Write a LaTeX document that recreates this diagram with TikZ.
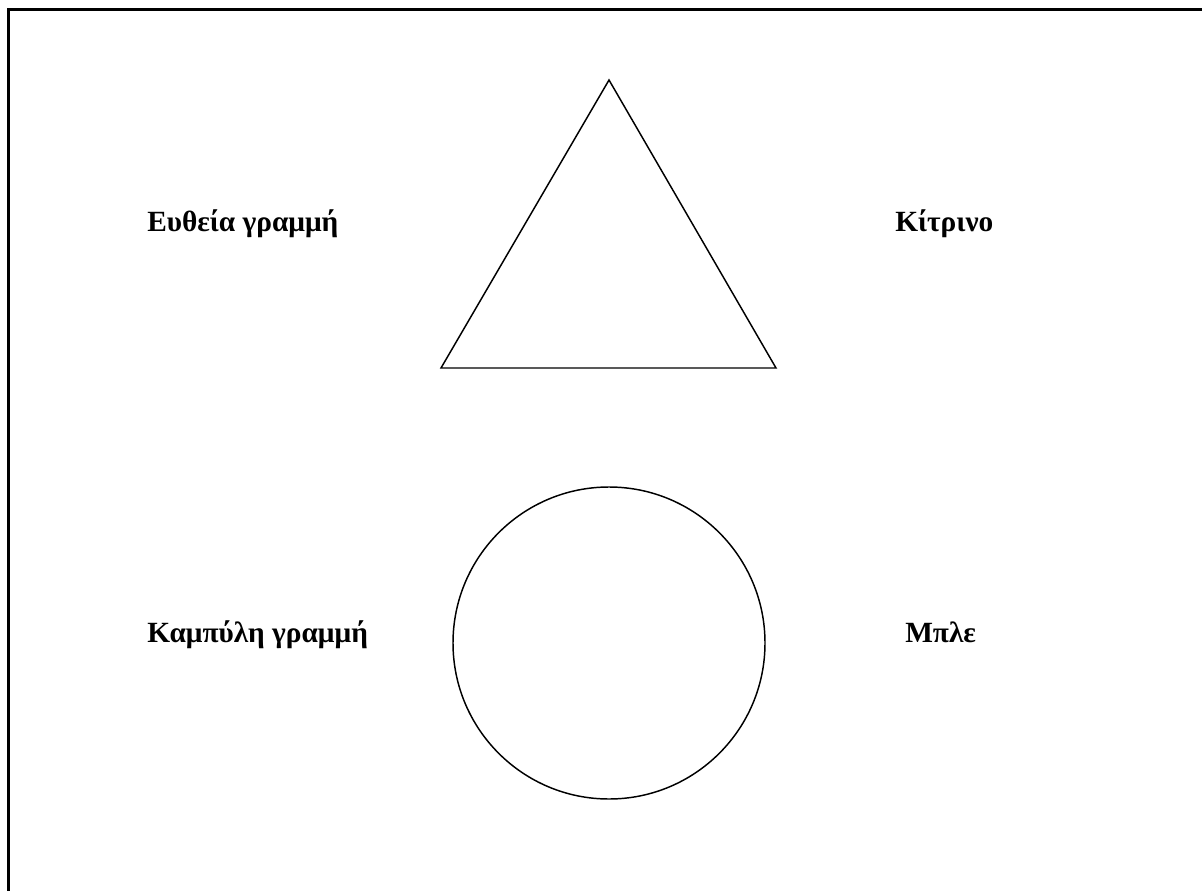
\documentclass[tikz,border=0pt]{standalone}
\usepackage{fontspec}
\setmainfont{Liberation Serif}
\usetikzlibrary{positioning}

\begin{document}
\begin{tikzpicture}[
    x=0.75pt, y=-0.75pt,
    % labels beside the shapes
    label text/.style={anchor=base west, inner sep=0pt, font=\bfseries\fontsize{22}{26}\selectfont},
    shape line/.style={draw, line width=1.1pt},
    frame line/.style={draw, line width=1.7pt}
]
    \useasboundingbox (0,0) rectangle (1202,891);

    % 1. Outer frame (only top and left edges in view)
    \coordinate (fbl) at (8.5,895);
    \coordinate (ftl) at (8.5,9.5);
    \coordinate (ftr) at (1206,9.5);
    \draw[frame line] (fbl) -- (ftl) -- (ftr);

    % 2. Triangle
    \coordinate (apex) at (609,80);
    \coordinate (bl) at (441,368);
    \coordinate (br) at (776,368);
    \draw[shape line, line join=miter] (apex) -- (br) -- (bl) -- cycle;

    % 3. Circle
    \node[shape line, circle, minimum size=312*0.75pt, inner sep=0pt] (disc) at (609,643) {};

    % 4. Labels
    \node[label text] (straight) at (147,232) {Ευθεία γραμμή};
    \node[label text] (yellow) at (895,232) {Κίτρινο};
    \node[label text] (curved) at (147,642) {Καμπύλη γραμμή};
    \node[label text] (blue) at (905,642) {Μπλε};

\end{tikzpicture}
\end{document}
